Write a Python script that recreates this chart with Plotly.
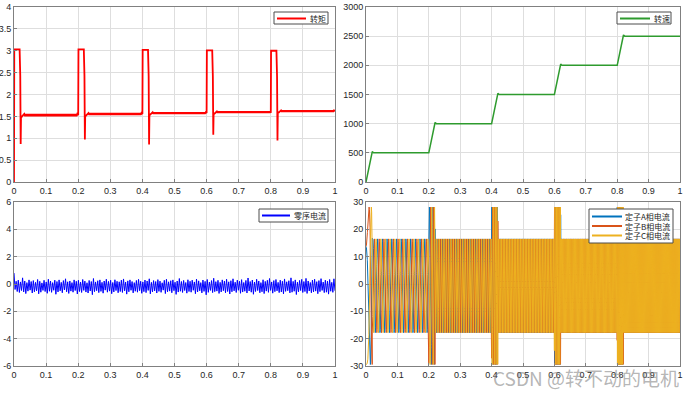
import numpy as np
import plotly.graph_objects as go

W, H = 691, 393

# ---------------- data ----------------
# torque (转矩): pulse starts, pulse levels, dip minima, steady levels & ripple
step_times = [0.0, 0.2, 0.4, 0.6, 0.8]
pulse_level = [3.03, 3.03, 3.02, 3.01, 3.00]
dip_value = [0.87, 0.97, 0.86, 1.08, 0.95]
recover_value = [1.47, 1.50, 1.52, 1.55, 1.58]
steady_level = [1.53, 1.555, 1.575, 1.595, 1.62]
steady_ripple = [0.025, 0.02, 0.018, 0.016, 0.016]

# speed (转速), rpm
speed_t = [0, 0.02, 0.024, 0.2, 0.22, 0.224, 0.4, 0.42, 0.424, 0.6, 0.62, 0.624, 0.8, 0.82, 0.824, 1.0]
speed_v = [0, 520, 500, 500, 1020, 1000, 1000, 1520, 1500, 1500, 2020, 2000, 2000, 2520, 2500, 2500]

# zero-sequence current (零序电流): upper / lower envelope samples
zs_hi = [0.80,0.20,0.28,0.15,0.45,0.22,0.10,0.30,0.18,0.25,0.12,0.33,0.20,0.08,0.27,0.15,0.35,0.22,0.10,0.28,
         0.18,0.30,0.12,0.25,0.38,0.16,0.22,0.10,0.30,0.20,0.27,0.14,0.33,0.21,0.09,0.26,0.18,0.40,0.15,0.24,
         0.30,0.12,0.22,0.35,0.19,0.27,0.11,0.31,0.20,0.16,0.28,0.37,0.14,0.23,0.30,0.18,0.10,0.26,0.34,0.20,
         0.15,0.29,0.22,0.38,0.12,0.25,0.18,0.32,0.21,0.09,0.27,0.35,0.16,0.24,0.30,0.13,0.22,0.40,0.18,0.26,
         0.11,0.31,0.20,0.28,0.15,0.36,0.23,0.10,0.29,0.19,0.33,0.14,0.25,0.42,0.17,0.27,0.12,0.30,0.21,0.35,
         0.16,0.24,0.38,0.13,0.28,0.20,0.32,0.11,0.26,0.44,0.18,0.29,0.14,0.35,0.22,0.10,0.31,0.19,0.27,0.40,
         0.15,0.25,0.33,0.12,0.28,0.20,0.37,0.16,0.24,0.45,0.19,0.30,0.13,0.26,0.34,0.18,0.41,0.22,0.11,0.29,
         0.35,0.17,0.25,0.39,0.14,0.28,0.21,0.33,0.12,0.38]
zs_lo = [-0.40,-0.55,-0.62,-0.48,-0.58,-0.70,-0.52,-0.45,-0.66,-0.57,-0.50,-0.72,-0.60,-0.47,-0.55,-0.68,-0.53,-0.61,-0.46,-0.75,
         -0.58,-0.50,-0.64,-0.44,-0.57,-0.69,-0.52,-0.60,-0.48,-0.73,-0.55,-0.62,-0.47,-0.59,-0.66,-0.51,-0.78,-0.56,-0.49,-0.63,
         -0.54,-0.67,-0.45,-0.60,-0.52,-0.71,-0.58,-0.48,-0.64,-0.55,-0.62,-0.50,-0.74,-0.57,-0.46,-0.65,-0.53,-0.60,-0.49,-0.68,
         -0.56,-0.63,-0.47,-0.72,-0.58,-0.51,-0.66,-0.54,-0.61,-0.45,-0.70,-0.57,-0.52,-0.64,-0.49,-0.76,-0.59,-0.53,-0.62,-0.48,
         -0.67,-0.55,-0.60,-0.46,-0.71,-0.58,-0.50,-0.65,-0.54,-0.79,-0.61,-0.47,-0.63,-0.56,-0.52,-0.69,-0.58,-0.49,-0.64,-0.55,
         -0.73,-0.57,-0.50,-0.62,-0.46,-0.68,-0.59,-0.53,-0.66,-0.51,-0.60,-0.75,-0.55,-0.48,-0.64,-0.57,-0.70,-0.52,-0.61,-0.47,
         -0.67,-0.56,-0.50,-0.63,-0.58,-0.72,-0.54,-0.49,-0.65,-0.60,-0.53,-0.77,-0.57,-0.48,-0.62,-0.55,-0.69,-0.51,-0.64,-0.58,
         -0.52,-0.71,-0.56,-0.47,-0.63,-0.60,-0.74,-0.53,-0.61,-0.50]

# stator phase currents (定子A/B/C相电流)
pole_pairs = 8                     # from the visible current period at 500 rpm
cur_seg_t = [0.0, 0.02, 0.2, 0.22, 0.4, 0.42, 0.6, 0.62, 0.8, 0.82, 1.0]
cur_amp = [28.8, 17.15, 28.8, 17.15, 28.8, 17.15, 28.8, 17.15, 28.8, 17.15]
cur_offset = -0.65
phase_names = ["定子A相电流", "定子B相电流", "定子C相电流"]
phase_colors = ["#0072BD", "#D95319", "#EDB120"]

torque_color = "#ff0000"
speed_color = "#2e9b2e"
zs_color = "#0000ff"

# ---------------- build traces ----------------
tq_t, tq_v = [], []
for i, t0 in enumerate(step_times):
    tq_t += [t0, t0 + 0.0008, t0 + 0.0175, t0 + 0.0195, t0 + 0.0208, t0 + 0.0218, t0 + 0.025, t0 + 0.03]
    prev = 0.0 if i == 0 else steady_level[i - 1]
    tq_v += [prev, pulse_level[i], pulse_level[i], pulse_level[i] - 0.6, dip_value[i],
             recover_value[i], steady_level[i] - 0.03, steady_level[i]]
    t_end = step_times[i + 1] if i + 1 < len(step_times) else 1.0
    ts = np.arange(t0 + 0.032, t_end - 0.0005, 0.0025)
    for k, tt in enumerate(ts):
        tq_t.append(float(tt))
        tq_v.append(steady_level[i] + (steady_ripple[i] if k % 2 == 0 else -steady_ripple[i]))
tq_t.append(1.0)
tq_v.append(steady_level[-1])

n_zs = len(zs_hi) + len(zs_lo)
zs_t = np.linspace(0, 1, n_zs)
zs_v = []
for a, b in zip(zs_hi, zs_lo):
    zs_v += [a, b]

tc = np.arange(0, 1.0 + 1e-9, 1e-4)
spd = np.interp(tc, speed_t, speed_v)
f_e = spd * pole_pairs / 60.0
theta = 2 * np.pi * np.concatenate([[0], np.cumsum((f_e[1:] + f_e[:-1]) / 2 * np.diff(tc))])
seg_idx = np.clip(np.searchsorted(cur_seg_t, tc, side="right") - 1, 0, len(cur_amp) - 1)
amp = np.array(cur_amp)[seg_idx]
phi0 = np.pi / 3

fig = go.Figure()

fig.add_trace(go.Scatter(x=tq_t, y=tq_v, mode="lines", name="转矩",
                         line=dict(color=torque_color, width=1.8),
                         xaxis="x", yaxis="y", showlegend=False))
fig.add_trace(go.Scatter(x=speed_t, y=speed_v, mode="lines", name="转速",
                         line=dict(color=speed_color, width=1.5),
                         xaxis="x2", yaxis="y2", showlegend=False))
fig.add_trace(go.Scatter(x=zs_t, y=zs_v, mode="lines", name="零序电流",
                         line=dict(color=zs_color, width=1),
                         xaxis="x3", yaxis="y3", showlegend=False))
for k in range(3):
    yk = amp * np.cos(theta + phi0 - 2 * np.pi * k / 3) + cur_offset
    fig.add_trace(go.Scatter(x=tc, y=np.round(yk, 2), mode="lines", name=phase_names[k],
                             line=dict(color=phase_colors[k], width=1),
                             xaxis="x4", yaxis="y4", showlegend=False))

# ---------------- layout ----------------
def px_x(p):
    return p / W

def px_y(p):
    return 1 - p / H

xl = [px_x(14), px_x(335)]
xr = [px_x(366), px_x(680)]
yt = [px_y(182), px_y(7)]
yb = [px_y(366), px_y(202)]

axis_common = dict(showline=True, mirror=True, linecolor="#808080", linewidth=1,
                   showgrid=True, gridcolor="#dedede", gridwidth=1,
                   ticks="inside", ticklen=3, tickcolor="#808080",
                   tickfont=dict(family="Liberation Sans, Arial", size=9, color="#262626"),
                   zeroline=False, fixedrange=True, automargin=False)

xticks = [0, 0.1, 0.2, 0.3, 0.4, 0.5, 0.6, 0.7, 0.8, 0.9, 1]
xtext = ["0", "0.1", "0.2", "0.3", "0.4", "0.5", "0.6", "0.7", "0.8", "0.9", "1"]

def xax(dom, anchor):
    return dict(axis_common, domain=dom, anchor=anchor, range=[0, 1],
                tickvals=xticks, ticktext=xtext)

def yax(dom, anchor, rng, vals, texts):
    return dict(axis_common, domain=dom, anchor=anchor, range=rng,
                tickvals=vals, ticktext=texts)

# hand-built legends (MATLAB-style compact boxes)
shapes = []
annotations = []

def add_legend(box, entries, line_x, text_x, row_y):
    x0, y0, x1, y1 = box
    shapes.append(dict(type="rect", xref="paper", yref="paper",
                       x0=px_x(x0), x1=px_x(x1), y0=px_y(y1), y1=px_y(y0),
                       fillcolor="white", line=dict(color="#4d4d4d", width=1), layer="above"))
    for (name, color), ry in zip(entries, row_y):
        shapes.append(dict(type="line", xref="paper", yref="paper",
                           x0=px_x(line_x[0]), x1=px_x(line_x[1]), y0=px_y(ry), y1=px_y(ry),
                           line=dict(color=color, width=2), layer="above"))
        annotations.append(dict(text=name, xref="paper", yref="paper",
                                x=px_x(text_x), y=px_y(ry), xanchor="left", yanchor="middle",
                                showarrow=False,
                                font=dict(family="Noto Sans CJK SC", size=8, color="#262626")))

add_legend((274, 12, 328, 24), [("转矩", torque_color)], (277, 306), 307.5, [18.5])
add_legend((617, 12, 671, 24), [("转速", speed_color)], (620, 650), 651.5, [18.5])
add_legend((259, 209, 328, 222), [("零序电流", zs_color)], (262, 290), 291.5, [215.5])
add_legend((589, 209, 673, 243), list(zip(phase_names, phase_colors)), (592, 622), 622.5,
           [216.5, 226, 235.5])

annotations.append(dict(text="CSDN @转不动的电机", xref="paper", yref="paper",
                        x=px_x(681), y=px_y(377), xanchor="right", yanchor="middle",
                        showarrow=False,
                        font=dict(family="Noto Sans CJK SC", size=19, color="rgba(120,120,120,0.55)")))

fig.update_layout(
    width=W, height=H,
    margin=dict(l=0, r=0, t=0, b=0),
    paper_bgcolor="white", plot_bgcolor="white",
    showlegend=False,
    xaxis=xax(xl, "y"),
    yaxis=yax(yt, "x", [0, 4], [0, 0.5, 1, 1.5, 2, 2.5, 3, 3.5, 4],
              ["0", "0.5", "1", "1.5", "2", "2.5", "3", "3.5", "4"]),
    xaxis2=xax(xr, "y2"),
    yaxis2=yax(yt, "x2", [0, 3000], [0, 500, 1000, 1500, 2000, 2500, 3000],
               ["0", "500", "1000", "1500", "2000", "2500", "3000"]),
    xaxis3=xax(xl, "y3"),
    yaxis3=yax(yb, "x3", [-6, 6], [-6, -4, -2, 0, 2, 4, 6],
               ["-6", "-4", "-2", "0", "2", "4", "6"]),
    xaxis4=xax(xr, "y4"),
    yaxis4=yax(yb, "x4", [-30, 30], [-30, -20, -10, 0, 10, 20, 30],
               ["-30", "-20", "-10", "0", "10", "20", "30"]),
    shapes=shapes,
    annotations=annotations,
)

fig.write_html("out.html", config={"displayModeBar": False},
               post_script="document.body.style.margin='0px';")
